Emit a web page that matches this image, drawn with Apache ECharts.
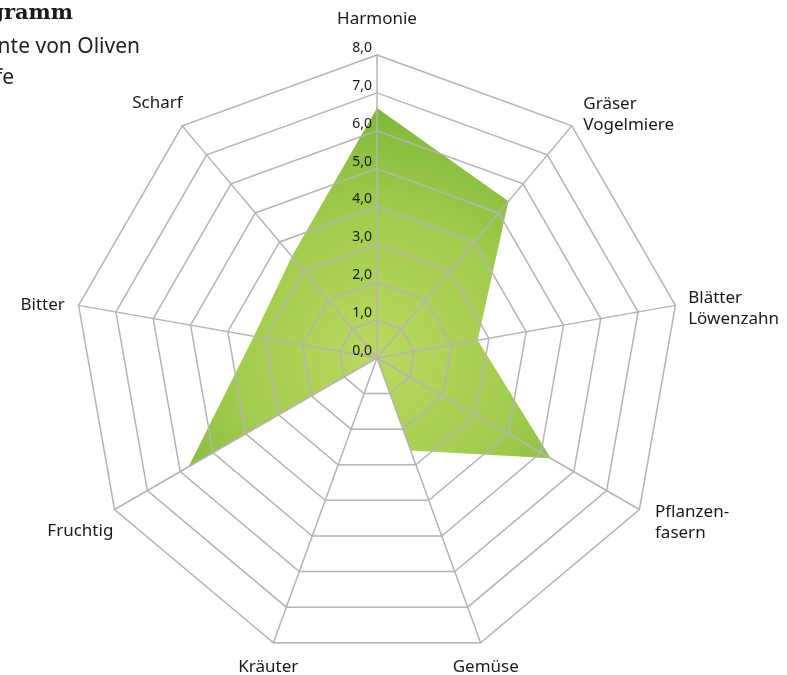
<!DOCTYPE html>
<html><head><meta charset="utf-8">
<script src="https://cdn.jsdelivr.net/npm/echarts@6/dist/echarts.min.js"></script>
<style>html,body{margin:0;padding:0;background:#fff}#c{width:787px;height:675px}</style>
</head><body><div id="c"></div>
<script>
// Chart order: clockwise from top
const categories = ['Harmonie', 'Gräser\nVogelmiere', 'Blätter\nLöwenzahn', 'Pflanzen-\nfasern', 'Gemüse', 'Kräuter', 'Fruchtig', 'Bitter', 'Scharf'];
const values = [6.6, 5.4, 2.7, 5.3, 2.6, 0.0, 5.75, 3.3, 3.5];
const tickLabels = ['0,0', '1,0', '2,0', '3,0', '4,0', '5,0', '6,0', '7,0', '8,0'];
const titleLines = ['Aromadiagramm', 'Frühe Ernte von Oliven', 'mittlere Reife'];
const maxValue = 8;

// per-label placement (style only); sp = spacer height that pushes the label down by sp/2
const nameLayout = [
  {gap: 25, align: 'center', va: 'bottom', sp: 0, pad: [0, 0, 0, 0]},
  {gap: 18, align: 'left', va: 'middle', sp: 6, pad: [0, 0, 0, 0]},
  {gap: 13, align: 'left', va: 'middle', sp: 11, pad: [0, 0, 0, 0]},
  {gap: 18, align: 'left', va: 'middle', sp: 8, pad: [0, 0, 0, 0]},
  {gap: 15, align: 'center', va: 'top', sp: 0, pad: [0, 0, 0, 0]},
  {gap: 15, align: 'center', va: 'top', sp: 0, pad: [0, 0, 0, 0]},
  {gap: 43, align: 'center', va: 'middle', sp: 0, pad: [0, 0, 0, 6]},
  {gap: 14, align: 'right', va: 'middle', sp: 4, pad: [0, 0, 0, 0]},
  {gap: 30, align: 'center', va: 'middle', sp: 0, pad: [0, 11, 0, 0]}
];

const cx = 377, cy = 358, R = 303;

const rich = {};
nameLayout.forEach(l => { if (l.sp) rich['s' + l.sp] = {lineHeight: l.sp, fontSize: 1}; });

// ECharts radar runs counter-clockwise: reorder (keep first at top)
const order = [0].concat(categories.map((_, i) => i).slice(1).reverse());
const indicator = order.map(i => {
  const o = {
    name: categories[i], min: 0, max: maxValue,
    nameGap: nameLayout[i].gap,
    nameTextStyle: {align: nameLayout[i].align, verticalAlign: nameLayout[i].va, padding: nameLayout[i].pad}
  };
  if (i === 0) {
    o.axisLabel = {
      show: true,
      formatter: v => tickLabels[Math.round(v)],
      color: '#1a1a1a', fontSize: 14, fontFamily: 'Noto Sans',
      margin: 5, align: 'right', verticalAlign: 'bottom'
    };
  }
  return o;
});
const seriesData = order.map(i => values[i]);

const chart = echarts.init(document.getElementById('c'), null, {renderer: 'canvas'});
chart.setOption({
  backgroundColor: '#fff',
  animation: false,
  graphic: [
    {type: 'text', x: 73, y: 14, style: {text: titleLines[0], font: 'bold 21px "DejaVu Serif"', align: 'right', verticalAlign: 'middle', fill: '#1a1a1a'}},
    {type: 'text', x: 140, y: 47, style: {text: titleLines[1], font: '21px "Noto Sans"', align: 'right', verticalAlign: 'middle', fill: '#222'}},
    {type: 'text', x: 14, y: 78, style: {text: titleLines[2], font: '21px "Noto Sans"', align: 'right', verticalAlign: 'middle', fill: '#222'}}
  ],
  radar: {
    z: 5,
    center: [cx, cy],
    radius: R,
    startAngle: 90,
    shape: 'polygon',
    splitNumber: 8,
    indicator: indicator,
    axisName: {
      color: '#1a1a1a', fontSize: 17, fontFamily: 'Noto Sans', lineHeight: 21,
      rich: rich,
      formatter: name => {
        const sp = nameLayout[categories.indexOf(name)].sp;
        return sp ? '{s' + sp + '| }\n' + name : name;
      }
    },
    splitLine: {lineStyle: {color: '#b4b4b4', width: 1.5}},
    splitArea: {show: false},
    axisLine: {lineStyle: {color: '#b4b4b4', width: 1.5}},
    axisTick: {show: false},
    axisLabel: {show: false}
  },
  series: [{
    type: 'radar',
    z: 2,
    symbol: 'none',
    silent: true,
    lineStyle: {width: 0},
    areaStyle: {
      opacity: 1,
      color: {
        type: 'radial', x: cx, y: cy, r: R, global: true,
        colorStops: [{offset: 0, color: '#bad85f'}, {offset: 0.45, color: '#a3cd4e'}, {offset: 0.9, color: '#78b435'}, {offset: 1, color: '#72b030'}]
      }
    },
    data: [{value: seriesData}]
  }]
});
</script></body></html>
